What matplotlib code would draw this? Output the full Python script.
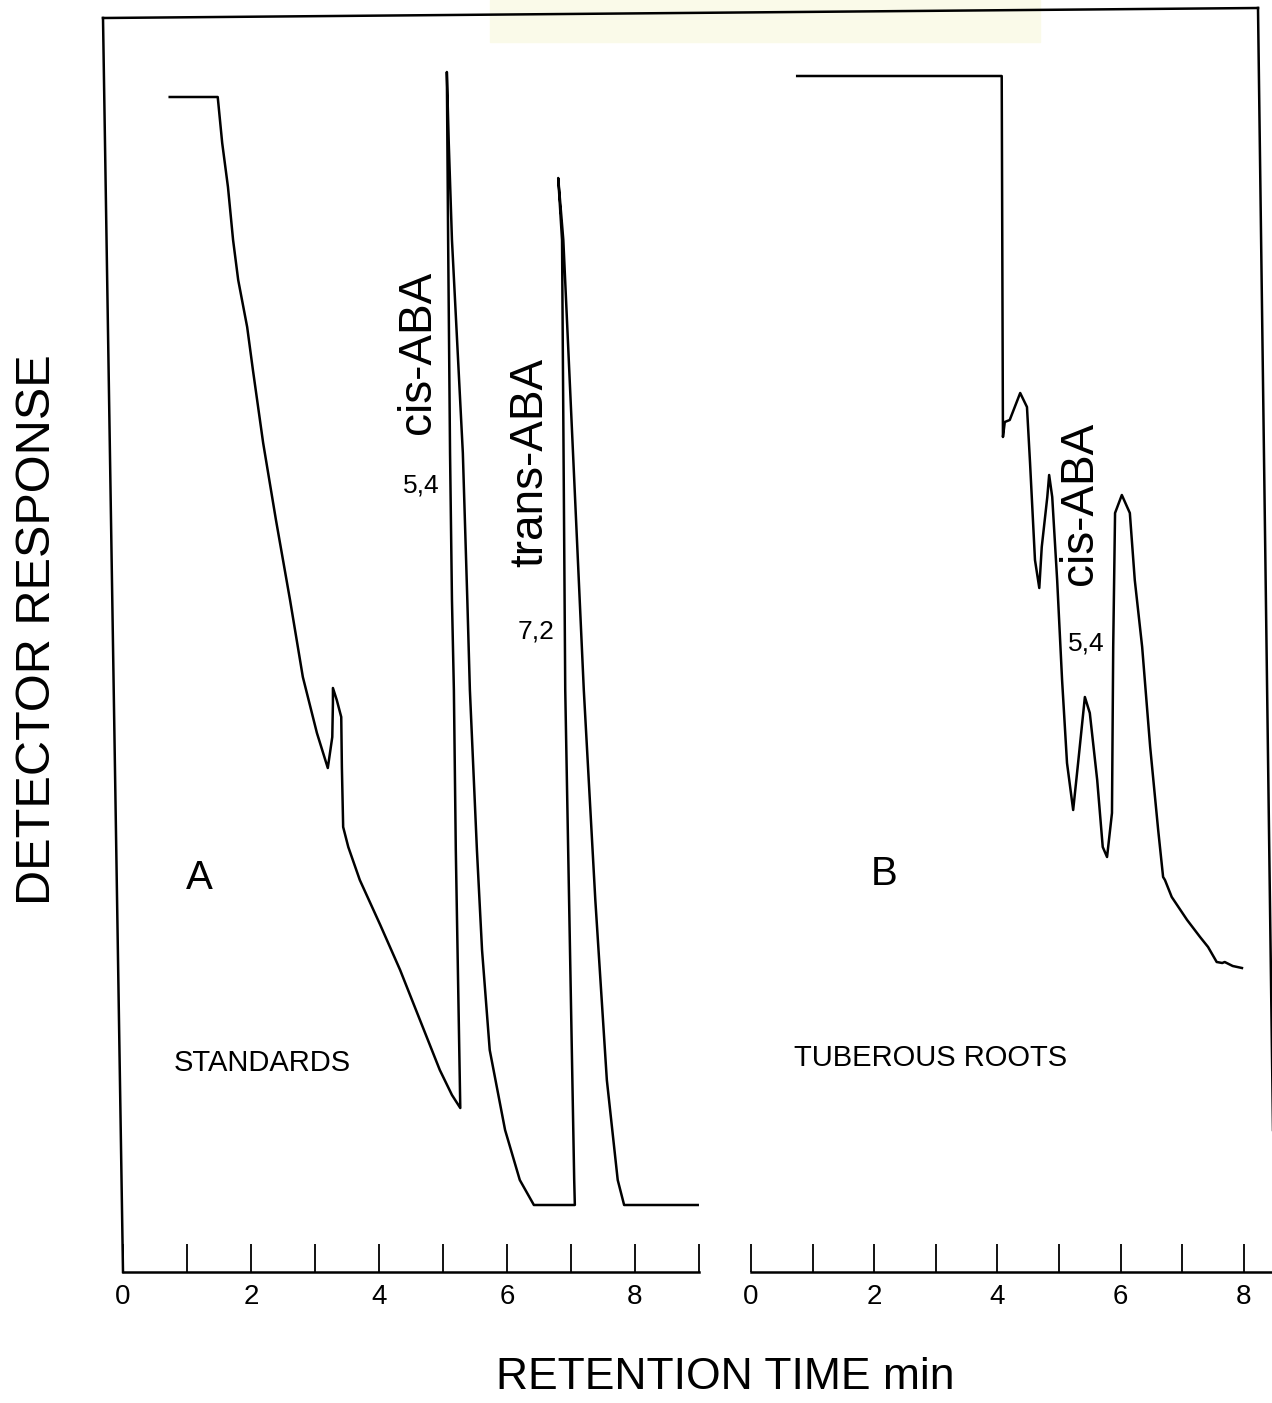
import matplotlib.pyplot as plt
from matplotlib.lines import Line2D
from matplotlib.patches import Rectangle

plt.rcParams['font.family'] = ['Liberation Sans', 'DejaVu Sans']

# Хроматограмма A - стандарты (время, мин / отклик детектора, усл. ед.)
time_a = [0.73, 1.48, 1.55, 1.64, 1.72, 1.80, 1.94, 2.03, 2.19, 2.39, 2.61, 2.81,
          3.03, 3.20, 3.27, 3.28, 3.28, 3.34, 3.41, 3.42, 3.44, 3.52, 3.70, 4.02,
          4.33, 4.64, 4.95, 5.14, 5.27,
          5.20, 5.17, 5.14, 5.11, 5.08, 5.06,
          5.09, 5.14, 5.31, 5.38, 5.42, 5.53, 5.61, 5.73, 5.97, 6.20, 6.42,
          7.06, 7.05, 6.91, 6.86, 6.80,
          6.88, 7.20, 7.38, 7.56, 7.73, 7.83, 8.98]
resp_a = [117.5, 117.5, 112.9, 108.5, 103.2, 99.2, 94.5, 90.2, 82.9, 75.2, 67.2, 59.5,
          53.9, 50.4, 53.5, 56.9, 58.4, 57.2, 55.5, 50.5, 44.5, 42.5, 39.2, 34.7,
          30.2, 25.2, 20.2, 17.7, 16.4,
          42.2, 58.2, 67.2, 81.9, 103.2, 120.0,
          112.9, 103.2, 81.9, 67.2, 58.2, 42.2, 32.2, 22.2, 14.2, 9.2, 6.7,
          6.7, 9.2, 58.2, 103.2, 109.4,
          103.2, 58.2, 37.2, 19.2, 9.2, 6.7, 6.7]

# Хроматограмма B - клубневидные корни
time_b = [0.75, 4.07, 4.09, 4.12, 4.20, 4.37, 4.48, 4.53, 4.61, 4.68, 4.72, 4.81,
          4.84, 4.89, 4.97, 5.05, 5.13, 5.23, 5.31, 5.42, 5.50, 5.62, 5.71, 5.78,
          5.86, 5.88, 5.91, 6.02, 6.15, 6.23, 6.35, 6.48, 6.61, 6.69, 6.72, 6.83,
          7.08, 7.29, 7.42, 7.56, 7.65, 7.69, 7.82, 7.97]
resp_b = [119.6, 119.6, 83.5, 85.0, 85.2, 87.9, 86.5, 80.9, 71.2, 68.4, 72.5, 77.5,
          79.7, 77.5, 69.2, 59.2, 50.9, 46.2, 50.9, 57.5, 55.9, 49.2, 42.5, 41.5,
          45.9, 62.5, 75.9, 77.7, 75.9, 69.2, 62.5, 52.5, 44.2, 39.5, 39.2, 37.5,
          35.2, 33.5, 32.5, 31.0, 30.9, 31.0, 30.6, 30.4]

ticks_a = list(range(0, 10))
ticks_b = list(range(0, 9))
tick_labels_a = ['0', '', '2', '', '4', '', '6', '', '8', '']
tick_labels_b = ['0', '', '2', '', '4', '', '6', '', '8']

W, H = 1272, 1403
fig = plt.figure(figsize=(W / 100, H / 100), dpi=100)


def px(x, y):
    # пиксели исходной картинки -> координаты фигуры
    return x / W, 1 - y / H


def setup(ax, xmax, ticks, labels):
    ax.set_xlim(0, xmax)
    ax.set_ylim(0, 125.7)
    for s in ['left', 'right', 'top']:
        ax.spines[s].set_visible(False)
    ax.spines['bottom'].set_linewidth(1.8)
    ax.set_yticks([])
    ax.set_xticks(ticks)
    ax.set_xticklabels(labels)
    ax.tick_params(axis='x', direction='in', length=20, width=1.3,
                   labelsize=20, pad=9)
    ax.patch.set_alpha(0)


ax_a = fig.add_axes([123 / W, 1 - 1272 / H, 576 / W, 1257 / H])
setup(ax_a, 9, ticks_a, tick_labels_a)
ax_a.plot(time_a, resp_a, color='black', lw=1.8)

ax_b = fig.add_axes([751 / W, 1 - 1272 / H, 521 / W, 1257 / H])
setup(ax_b, 521 / 61.6, ticks_b, tick_labels_b)
ax_b.plot(time_b, resp_b, color='black', lw=1.8)

# подписи пиков
ax_a.text(4.61, 92.0, 'cis-ABA', rotation=90, fontsize=33, ha='center', va='center')
ax_a.text(4.66, 78.6, '5,4', fontsize=19, ha='center', va='center')
ax_a.text(6.36, 81.0, 'trans-ABA', rotation=90, fontsize=33, ha='center', va='center')
ax_a.text(6.45, 64.0, '7,2', fontsize=19, ha='center', va='center')
ax_a.text(1.20, 39.4, 'A', fontsize=29, ha='center', va='center')
ax_a.text(2.17, 20.9, 'STANDARDS', fontsize=21, ha='center', va='center')

ax_b.text(5.34, 76.9, 'cis-ABA', rotation=90, fontsize=33, ha='center', va='center')
ax_b.text(5.45, 62.9, '5,4', fontsize=19, ha='center', va='center')
ax_b.text(2.16, 39.8, 'B', fontsize=29, ha='center', va='center')
ax_b.text(2.91, 21.4, 'TUBEROUS ROOTS', fontsize=21, ha='center', va='center')

# рамка (скан немного повёрнут)
frame = [((103, 18), (123, 1272)), ((103, 18), (1258, 8)), ((1258, 8), (1273, 1130))]
for p0, p1 in frame:
    x0, y0 = px(*p0)
    x1, y1 = px(*p1)
    fig.add_artist(Line2D([x0, x1], [y0, y1], color='black', lw=1.8))

# бледная полоска скотча сверху
fig.add_artist(Rectangle(px(490, 42), 550 / W, 42 / H, color='#fafae9', zorder=-1))

fig.text(*px(38, 630), 'DETECTOR RESPONSE', rotation=90, fontsize=35,
         ha='center', va='center')
fig.text(*px(725, 1389), 'RETENTION TIME min', fontsize=32, ha='center', va='baseline')

fig.savefig('out.png', dpi=100)
